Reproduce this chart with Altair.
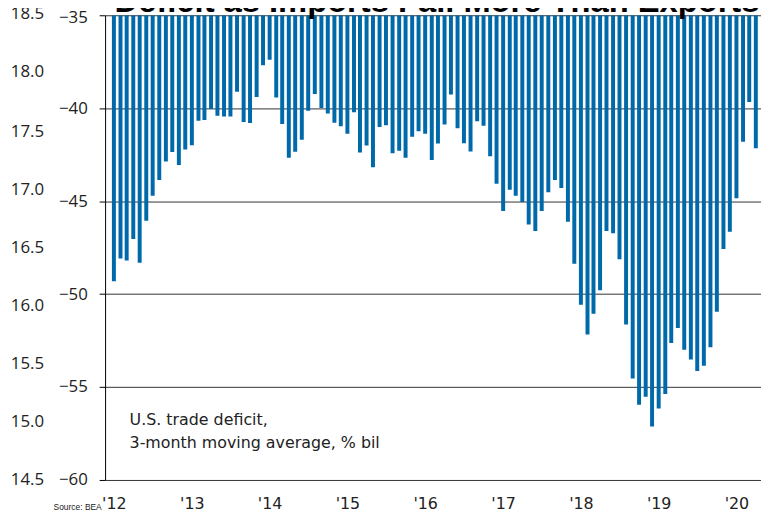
import altair as alt
import pandas as pd

# ---- data ----
start_year = 2012
deficit = [
    -49.31, -48.09, -48.19, -47.03, -48.32, -46.05, -44.71, -43.86, -42.86, -42.36, -43.06, -42.22,  # 2012
    -41.99, -40.67, -40.63, -40.04, -40.40, -40.44, -40.44, -39.12, -40.74, -40.79, -39.39, -37.69,  # 2013
    -37.39, -39.42, -40.85, -42.66, -42.34, -41.70, -40.13, -39.24, -39.99, -40.29, -40.78, -40.97,  # 2014
    -41.38, -40.22, -42.38, -42.01, -43.18, -41.01, -40.92, -42.42, -42.29, -42.66, -41.54, -41.24,  # 2015
    -41.38, -42.79, -41.90, -40.88, -39.26, -41.08, -41.88, -42.33, -40.70, -40.94, -42.59, -44.07,  # 2016
    -45.53, -44.38, -44.71, -45.04, -46.25, -46.60, -45.53, -44.52, -43.86, -44.29, -46.11, -48.37,  # 2017
    -50.58, -52.17, -51.06, -49.80, -46.60, -46.73, -48.12, -51.63, -54.54, -55.96, -55.52, -57.12,  # 2018
    -56.16, -55.37, -52.63, -51.83, -52.99, -53.52, -54.14, -53.86, -52.86, -50.95, -47.57, -46.64,  # 2019
    -44.84, -41.81, -39.67, -42.15,                                                                  # 2020
]
dates = [f"{start_year + i // 12}-{i % 12 + 1:02d}-01T00:00:00" for i in range(len(deficit))]
primary_ticks = [-60, -55, -50, -45, -40, -35]
secondary_ticks = [14.5, 15.0, 15.5, 16.0, 16.5, 17.0, 17.5, 18.0, 18.5]
year_ticks = list(range(2012, 2021))
title_text = "Deficit as Imports Fall More Than Exports"
note_lines = ["U.S. trade deficit,", "3-month moving average, % bil"]
source_text = "Source: BEA"

df = pd.DataFrame({"date": dates, "deficit": deficit})

W, H = 662, 469
x_scale = alt.Scale(
    domain=[alt.DateTime(year=2011, month=12, date=14), alt.DateTime(year=2020, month=4, date=2)]
)

bars = alt.Chart(df).mark_bar(size=4, color="#0069AA", clip=True).encode(
    x=alt.X(
        "date:T",
        scale=x_scale,
        axis=alt.Axis(
            values=[alt.DateTime(year=y, month=1, date=1) for y in year_ticks],
            format="'%y",
            domain=False,
            ticks=False,
            grid=False,
            labelFont="DejaVu Sans",
            labelFontSize=16,
            labelColor="#222222",
            labelBaseline="alphabetic",
            labelPadding=29,
            title=None,
        ),
    ),
    y=alt.Y(
        "deficit:Q",
        scale=alt.Scale(domain=[-60, -35], nice=False, zero=False),
        axis=alt.Axis(
            orient="left",
            values=primary_ticks,
            grid=True,
            gridColor="#333333",
            gridWidth=1,
            domainColor="#000000",
            tickColor="#000000",
            tickSize=6,
            labelPadding=12,
            labelOffset={"condition": {"test": "datum.value == -35", "value": 2.5}, "value": 0},
            labelFont="Open Sans",
            labelFontSize=17,
            labelColor="#222222",
            title=None,
        ),
    ),
    y2=alt.datum(-35),
)

sec = alt.Chart(pd.DataFrame({"v": secondary_ticks})).mark_point(opacity=0).encode(
    y=alt.Y(
        "v:Q",
        scale=alt.Scale(domain=[14.5, 18.5], nice=False, zero=False),
        axis=alt.Axis(
            orient="left",
            values=secondary_ticks,
            format=".1f",
            offset=62,
            domain=False,
            ticks=False,
            grid=False,
            labelPadding=0,
            labelOffset={"condition": {"test": "datum.value >= 18", "value": -1.5}, "value": 0},
            labelFont="Open Sans",
            labelFontSize=17,
            labelColor="#222222",
            title=None,
        ),
    )
)

note = alt.Chart(pd.DataFrame({"t": [note_lines]})).mark_text(
    align="left", baseline="alphabetic", font="DejaVu Sans", fontSize=16,
    color="#222222", lineHeight=23,
).encode(text="t", x=alt.value(24.7), y=alt.value(413.7))

title = alt.Chart(pd.DataFrame({"t": [title_text]})).mark_text(
    align="center", baseline="alphabetic", font="Liberation Sans", fontWeight="bold",
    fontSize=33, color="#000000",
).encode(text="t", x=alt.value(335), y=alt.value(-3.7))

source = alt.Chart(pd.DataFrame({"t": [source_text]})).mark_text(
    align="left", baseline="alphabetic", font="Liberation Sans", fontSize=8.5,
    color="#222222",
).encode(text="t", x=alt.value(-52), y=alt.value(499))

chart = alt.layer(bars, sec, note, title, source).resolve_scale(y="independent").properties(
    width=W,
    height=H,
    autosize=alt.AutoSizeParams(type="none"),
    padding={"left": 98, "top": 5, "right": 0, "bottom": 31},
).configure_view(stroke=None)

chart.save("out.html", embed_options={"renderer": "svg", "actions": False})
